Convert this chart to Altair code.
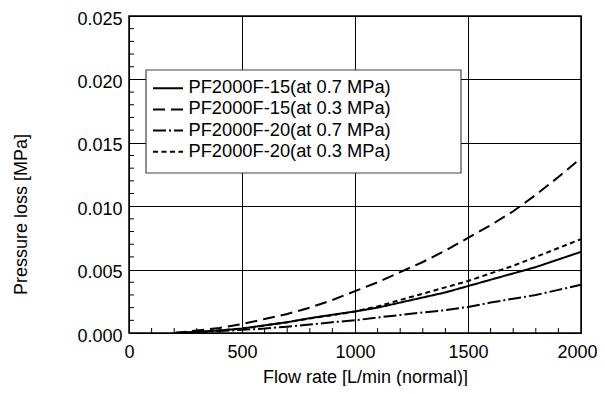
import altair as alt
import pandas as pd

# ---- data ----
flow = [200, 300, 400, 500, 600, 700, 800, 900, 1000, 1100, 1200, 1300, 1400,
        1500, 1600, 1700, 1800, 1900, 2000]
pf15_07 = [0, 0.0001, 0.0002, 0.00035, 0.0006, 0.00085, 0.00117, 0.00144, 0.0017,
           0.0020, 0.0024, 0.0028, 0.0032, 0.0037, 0.0042, 0.0047, 0.0052, 0.0058, 0.0064]
pf15_03 = [0, 0.0002, 0.0004, 0.0007, 0.0011, 0.0015, 0.0020, 0.0026, 0.0033,
           0.0040, 0.0048, 0.0056, 0.0065, 0.0075, 0.0085, 0.0096, 0.0109, 0.0123, 0.0138]
pf20_07 = [0, 0.00005, 0.00015, 0.00025, 0.00035, 0.0005, 0.00067, 0.00085, 0.0010,
           0.00122, 0.00142, 0.00162, 0.0018, 0.00205, 0.0024, 0.0027, 0.0030, 0.0034, 0.0038]
pf20_03 = [0, 0.0001, 0.0002, 0.00035, 0.0006, 0.00085, 0.00115, 0.0014, 0.0017,
           0.0021, 0.0026, 0.0031, 0.0036, 0.0041, 0.0047, 0.0053, 0.0060, 0.0067, 0.0074]

series_names = ["PF2000F-15(at 0.7 MPa)", "PF2000F-15(at 0.3 MPa)",
                "PF2000F-20(at 0.7 MPa)", "PF2000F-20(at 0.3 MPa)"]
x_ticks = [0, 500, 1000, 1500, 2000]
y_ticks = [0.0, 0.005, 0.010, 0.015, 0.020, 0.025]
x_minor = [v for v in range(100, 2000, 100) if v % 500 != 0]
y_minor = [i / 1000 for i in range(1, 25) if i % 5 != 0]

# ---- tables ----
rows = []
for name, vals in zip(series_names, [pf15_07, pf15_03, pf20_07, pf20_03]):
    for f, p in zip(flow, vals):
        rows.append({"flow": f, "loss": p, "series": name})
df = pd.DataFrame(rows)
leg = pd.DataFrame({"series": series_names, "row": list(range(len(series_names)))})
xm = pd.DataFrame({"flow": x_minor})
ym = pd.DataFrame({"v": y_minor})

FONT = "Liberation Sans"
W, H = 452, 317
xs = alt.Scale(domain=[0, 2000], nice=False, zero=False)
ys = alt.Scale(domain=[0, 0.025], nice=False, zero=False)
dash = alt.Scale(domain=series_names,
                 range=[[1, 0], [12, 6], [13, 3, 2, 3], [5, 3.5]])

x_axis = alt.Axis(
    values=x_ticks, format="d", grid=True, ticks=False, domain=False,
    labelFontSize=18, labelPadding=10, labelFlush=False, labelOverlap=False,
    labelOffset={"condition": {"test": "datum.value == 2000", "value": -4}, "value": 0},
    gridColor="black", gridWidth=1, labelColor="black", labelFont=FONT,
    title="Flow rate [L/min (normal)]", titleFontSize=18, titleFontWeight="normal",
    titleFont=FONT, titleColor="black", titleX=236, titleY=49.5,
    titleBaseline="alphabetic", titleAlign="center")

lines = alt.Chart(df).mark_line(color="black", strokeWidth=2).encode(
    x=alt.X("flow:Q", scale=xs, axis=x_axis),
    y=alt.Y("loss:Q", scale=ys, axis=alt.Axis(
        values=y_ticks, format=".3f", grid=True, ticks=False, domain=False,
        labelFontSize=18, labelPadding=7, labelOffset=3, labelFlush=False,
        labelOverlap=False, gridColor="black", gridWidth=1, labelColor="black",
        labelFont=FONT,
        title="Pressure loss [MPa]", titleFontSize=18, titleFontWeight="normal",
        titleFont=FONT, titleColor="black", titleX=-103, titleY=198,
        titleAngle=270, titleBaseline="alphabetic", titleAlign="center")),
    strokeDash=alt.StrokeDash("series:N", scale=dash, legend=None),
    detail="series:N",
)

xminor = alt.Chart(xm).mark_rule(color="black", strokeWidth=1).encode(
    x=alt.X("flow:Q", scale=xs, axis=x_axis),
    y=alt.value(H), y2=alt.value(H - 5))
yminor = alt.Chart(ym).mark_rule(color="black", strokeWidth=1).encode(
    y=alt.Y("v:Q", scale=ys, axis=None),
    x=alt.value(0), x2=alt.value(5))

legend_box = alt.Chart(pd.DataFrame({"a": [0]})).mark_rect(
    fill="white", stroke="#444", strokeWidth=1.2).encode(
    x=alt.value(17), x2=alt.value(332), y=alt.value(54), y2=alt.value(157))
row_scale = alt.Scale(domain=[0, 3], range=[72.3, 135.7])
legend_sym = alt.Chart(leg).mark_rule(color="black", strokeWidth=2).encode(
    y=alt.Y("row:Q", scale=row_scale, axis=None),
    x=alt.value(24), x2=alt.value(54),
    strokeDash=alt.StrokeDash("series:N", scale=dash, legend=None))
legend_txt = alt.Chart(leg).mark_text(
    align="left", baseline="middle", fontSize=18.3, font=FONT, color="black").encode(
    y=alt.Y("row:Q", scale=row_scale, axis=None),
    x=alt.value(59.5),
    text="series:N")

chart = alt.layer(lines, xminor, yminor, legend_box, legend_sym, legend_txt).resolve_scale(
    y="independent"
).properties(
    width=W, height=H,
    background="white",
    autosize=alt.AutoSizeParams(type="none"),
    padding={"left": 121, "top": 8, "right": 16, "bottom": 53},
).configure_view(stroke="black", strokeWidth=1.5)

chart.save("out.html", embed_options={"renderer": "svg", "actions": False})
